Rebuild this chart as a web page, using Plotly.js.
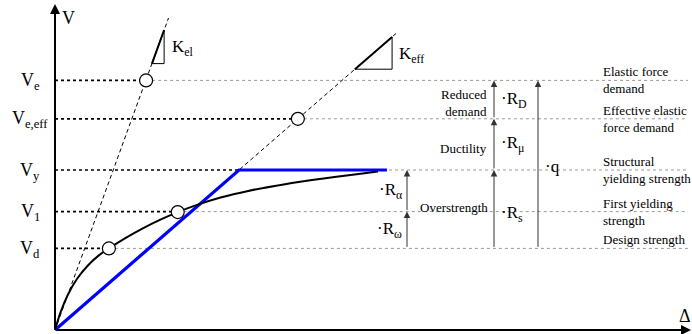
<!DOCTYPE html>
<html>
<head>
<meta charset="utf-8">
<script src="https://cdn.plot.ly/plotly-3.0.1.min.js"></script>
<style>html,body{margin:0;padding:0;background:#fff;}#chart{width:692px;height:334px;}</style>
</head>
<body>
<div id="chart"></div>
<script>
// ---- data (Δ normalised to Δy = 1, V normalised to Vy = 1) ----
const levelNames  = ['V<sub>e</sub>', 'V<sub>e,eff</sub>', 'V<sub>y</sub>', 'V<sub>1</sub>', 'V<sub>d</sub>'];
const levelV      = [1.56, 1.32, 1.0, 0.74, 0.51];
const levelMarkD  = [0.495, 1.32, 1.0, 0.667, 0.293];   // where the heavy dotted part stops
const levelEndD   = 3.44;
const rightLabels = ['Elastic force<br>demand', 'Effective elastic<br>force demand',
                     'Structural<br>yielding strength', 'First yielding<br>strength', 'Design strength'];

const curveD = [0, 0.03, 0.07, 0.12, 0.18, 0.24, 0.293, 0.38, 0.48, 0.57, 0.667, 0.78, 0.90, 1.05, 1.25, 1.45, 1.65, 1.755];
const curveV = [0, 0.11, 0.22, 0.32, 0.405, 0.468, 0.51, 0.573, 0.637, 0.688, 0.737, 0.785, 0.828, 0.869, 0.911, 0.945, 0.975, 0.991];

const bilinD = [0, 1.0, 1.804];
const bilinV = [0, 1.0, 1.0];

const kElD  = [0, 0.617];  const kElV  = [0, 1.95];
const kEffD = [0, 1.86];   const kEffV = [0, 1.86];

const triElD  = [0.527, 0.593, 0.593, 0.527]; const triElV  = [1.665, 1.875, 1.665, 1.665];
const triEffD = [1.630, 1.832, 1.832, 1.630]; const triEffV = [1.630, 1.832, 1.630, 1.630];

const circD = [0.495, 1.32, 0.667, 0.293];
const circV = [1.56, 1.32, 0.737, 0.51];

// arrow columns: [from V, to V]
const arrowsCol1 = [[0.51, 0.74], [0.74, 1.0]];
const arrowsCol2 = [[0.51, 1.0], [1.0, 1.32], [1.32, 1.56]];
const arrowsCol3 = [[0.51, 1.56]];

// ---- layout helpers (pixel -> data for label placement) ----
const D = px => (px - 55) / 184;
const V = py => (330 - py) / 160;
const FONT = 'Liberation Serif, Times New Roman, serif';

const traces = [];
levelV.forEach((v, i) => {
  traces.push({x: [levelMarkD[i], levelEndD], y: [v, v], mode: 'lines', hoverinfo: 'skip',
    line: {color: '#999', width: 1, dash: 'dot'}});
});
levelV.forEach((v, i) => {
  traces.push({x: [0, levelMarkD[i]], y: [v, v], mode: 'lines', hoverinfo: 'skip',
    line: {color: '#000', width: 1.7, dash: 'dot'}});
});
traces.push({x: kElD, y: kElV, mode: 'lines', line: {color: '#000', width: 1, dash: '4px,3px'}});
traces.push({x: kEffD, y: kEffV, mode: 'lines', line: {color: '#000', width: 1, dash: '4px,3px'}});
[[triElD, triElV], [triEffD, triEffV]].forEach(([tx, ty]) => {
  traces.push({x: tx, y: ty, mode: 'lines', line: {color: '#000', width: 1}});
  traces.push({x: tx.slice(0, 2), y: ty.slice(0, 2), mode: 'lines', line: {color: '#000', width: 2}});
});
traces.push({x: bilinD, y: bilinV, mode: 'lines', line: {color: '#0000ff', width: 3.2}});
traces.push({x: curveD, y: curveV, mode: 'lines', line: {color: '#000', width: 2, shape: 'spline', smoothing: 1}});
traces.push({x: circD, y: circV, mode: 'markers',
  marker: {size: 13, color: '#fff', line: {color: '#000', width: 1.2}}});

const ann = [];
const txt = (text, x, y, size, xanchor, extra) => Object.assign({
  text, x, y, xref: 'x', yref: 'y', showarrow: false, xanchor: xanchor || 'center', yanchor: 'middle',
  align: xanchor || 'center',
  font: {family: FONT, size: size, color: '#000'}}, extra || {});
const arr = (x, y0, y1, w, col) => ({x: x, y: y1, ax: x, ay: y0, xref: 'x', yref: 'y', axref: 'x', ayref: 'y',
  text: '', showarrow: true, arrowhead: 2, arrowsize: w > 1.5 ? 1 : 1.3, arrowwidth: w, arrowcolor: col, standoff: 0, startstandoff: 0});

// axes
ann.push(arr(0, 0, V(4), 2, '#000'));
ann.push({x: D(691), y: 0, ax: 0, ay: 0, xref: 'x', yref: 'y', axref: 'x', ayref: 'y', text: '', showarrow: true,
  arrowhead: 2, arrowsize: 1, arrowwidth: 2, arrowcolor: '#000', standoff: 0});
ann.push(txt('V', D(68), V(18), 18));
ann.push(txt('Δ', D(685), V(316), 18));

// level labels (left)
levelV.forEach((v, i) => ann.push(txt(levelNames[i], D(30), v, 18, 'center', {yshift: -1})));
// level labels (right)
const SMALL = 13;
levelV.forEach((v, i) => ann.push(txt(rightLabels[i], D(601), v, SMALL, 'left',
  {yanchor: i === 4 ? 'bottom' : 'middle', yshift: i === 4 ? -1 : 0})));

// stiffness labels
ann.push(txt('K<sub>el</sub>', D(170), V(48), 17, 'left'));
ann.push(txt('K<sub>eff</sub>', D(397), V(55), 17, 'left'));

// arrows
const c1 = D(407), c2 = D(494), c3 = D(538);
arrowsCol1.forEach(([a, b]) => ann.push(arr(c1, a, b, 1, '#333')));
arrowsCol2.forEach(([a, b]) => ann.push(arr(c2, a, b, 1, '#333')));
arrowsCol3.forEach(([a, b]) => ann.push(arr(c3, a, b, 1, '#333')));

// factor labels
ann.push(txt('·R<sub>α</sub>', D(404), (levelV[3] + levelV[2]) / 2, 17, 'right'));
ann.push(txt('·R<sub>ω</sub>', D(404), (levelV[4] + levelV[3]) / 2, 17, 'right'));
ann.push(txt('·R<sub>D</sub>', D(499), (levelV[0] + levelV[1]) / 2, 17, 'left'));
ann.push(txt('·R<sub>μ</sub>', D(499), (levelV[1] + levelV[2]) / 2, 17, 'left'));
ann.push(txt('·R<sub>s</sub>', D(499), V(214), 17, 'left'));
ann.push(txt('·q', D(543), V(166), 17, 'left'));
ann.push(txt('Overstrength', D(454), V(207), SMALL));
ann.push(txt('Reduced<br>demand', D(489), V(103), SMALL, 'right'));
ann.push(txt('Ductility', D(489), V(148), SMALL, 'right'));

const layout = {
  width: 692, height: 334, margin: {l: 0, r: 0, t: 0, b: 0},
  paper_bgcolor: '#fff', plot_bgcolor: '#fff', showlegend: false,
  xaxis: {range: [D(0), D(692)], visible: false, fixedrange: true},
  yaxis: {range: [V(334), V(0)], visible: false, fixedrange: true},
  annotations: ann
};
Plotly.newPlot('chart', traces, layout, {staticPlot: true});
</script>
</body>
</html>
